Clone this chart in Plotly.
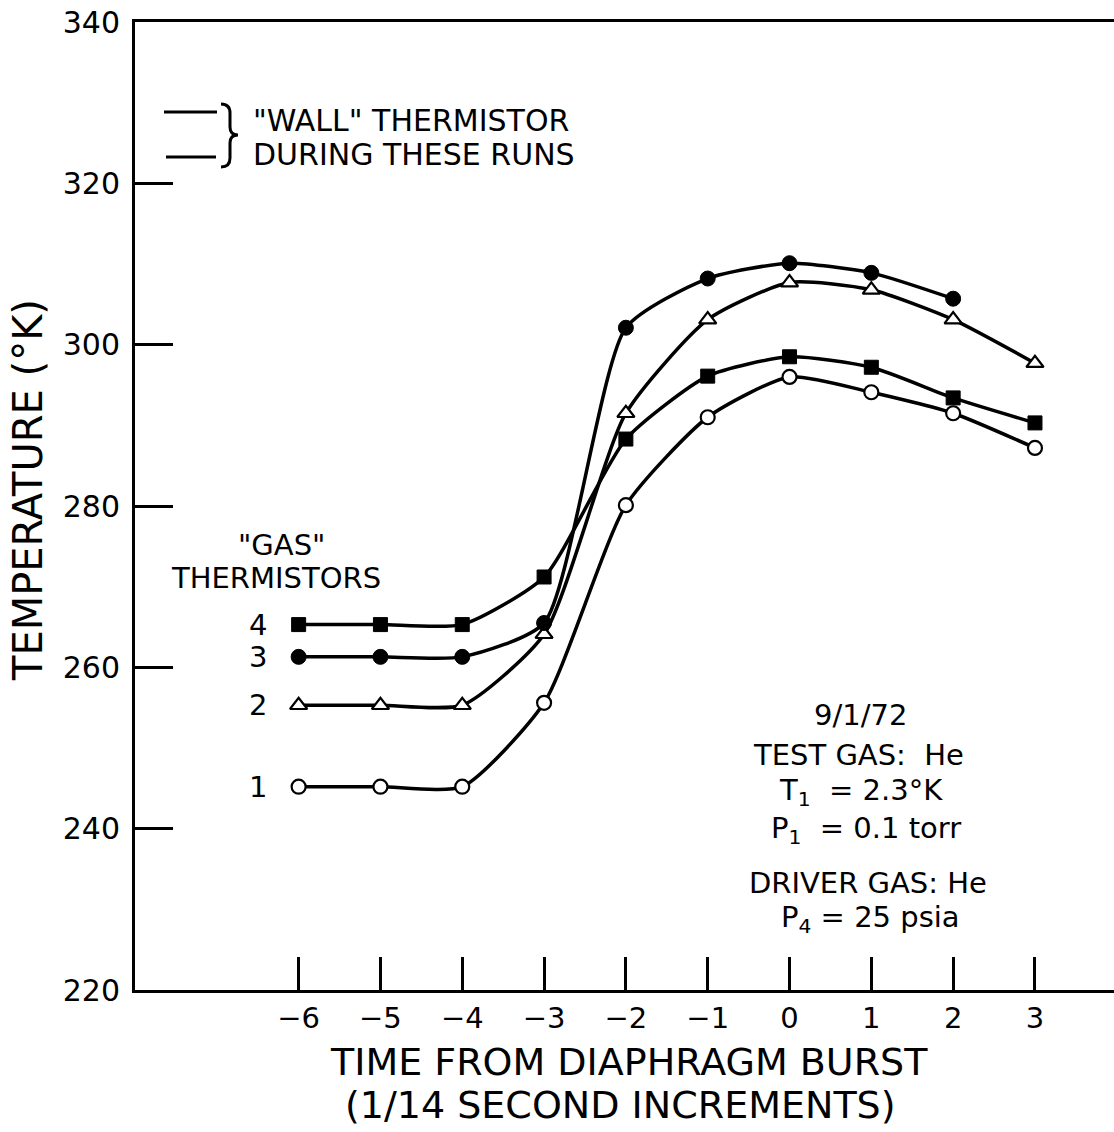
import plotly.graph_objects as go

# ---------------- data ----------------
time = [-6, -5, -4, -3, -2, -1, 0, 1, 2, 3]
gas1 = [245.2, 245.2, 245.2, 255.6, 280.1, 291.0, 296.0, 294.1, 291.5, 287.2]
gas2 = [255.3, 255.3, 255.3, 264.1, 291.5, 303.1, 307.7, 306.8, 303.1, 297.7]
gas3 = [261.3, 261.3, 261.3, 265.5, 302.1, 308.2, 310.1, 308.9, 305.7]
gas4 = [265.3, 265.3, 265.3, 271.2, 288.3, 296.1, 298.5, 297.2, 293.4, 290.3]
gas_labels = ["1", "2", "3", "4"]
y_ticks = [220, 240, 260, 280, 300, 320, 340]
x_ticks = [-6, -5, -4, -3, -2, -1, 0, 1, 2, 3]

W, H = 1114, 1132
L, R, T, B = 135, 0, 22, 142
FONT = "DejaVu Sans"


def px(xp):
    return (xp - L) / (W - L - R)


def py(yp):
    return (H - B - yp) / (H - T - B)


fig = go.Figure()

series = [
    (gas1, dict(symbol="circle", size=14, color="white", line=dict(color="black", width=2.2))),
    (gas2, dict(symbol="triangle-up", size=15, color="white", line=dict(color="black", width=2.2))),
    (gas3, dict(symbol="circle", size=15, color="black", line=dict(color="black", width=1))),
    (gas4, dict(symbol="square", size=14, color="black", line=dict(color="black", width=1))),
]
for vals, mk in series:
    fig.add_trace(go.Scatter(
        x=time[:len(vals)], y=vals, mode="lines+markers",
        line=dict(color="black", width=3.5, shape="spline", smoothing=0.6),
        marker=mk, showlegend=False, cliponaxis=False,
    ))

ann = []
# gas thermistor numbers next to the first point of each series
for lab, vals in zip(gas_labels, [gas1, gas2, gas3, gas4]):
    ann.append(dict(x=-6.5, y=vals[0], xref="x", yref="y", text=lab, showarrow=False,
                    font=dict(size=29, family=FONT, color="black"), xanchor="center", yanchor="middle"))

def txt(x, y, s, size=30, xanchor="center", angle=0):
    ann.append(dict(x=px(x), y=py(y), xref="paper", yref="paper", text=s, showarrow=False,
                    font=dict(size=size, family=FONT, color="black"),
                    xanchor=xanchor, yanchor="middle", textangle=angle))

txt(281, 545, '"GAS"', size=29)
txt(276, 578, "THERMISTORS", size=29)
txt(251, 120, '"WALL" THERMISTOR', xanchor="left")
txt(251, 155, "DURING THESE RUNS", xanchor="left")

txt(860, 715, "9/1/72", size=29)
txt(858, 755, "TEST GAS:  He", size=29)
txt(861, 792, "T<sub>1</sub>  = 2.3°K", size=29)
txt(866, 830, "P<sub>1</sub>  = 0.1 torr", size=29)
txt(868, 883, "DRIVER GAS: He", size=29)
txt(870, 919, "P<sub>4</sub> = 25 psia", size=29)

txt(629, 1062, "TIME FROM DIAPHRAGM BURST", size=38)
txt(620, 1105, "(1/14 SECOND INCREMENTS)", size=38)
txt(28, 490, "TEMPERATURE (°K)", size=40, angle=-90)

shapes = [
    dict(type="line", xref="paper", yref="paper", x0=px(164), x1=px(217), y0=py(112), y1=py(112),
         line=dict(color="black", width=3)),
    dict(type="line", xref="paper", yref="paper", x0=px(166), x1=px(216), y0=py(157), y1=py(157),
         line=dict(color="black", width=3)),
]
# curly brace
bp = [(221, 104), (230, 104), (230, 113), (230, 127), (230, 135), (238, 135), (230, 135), (230, 143),
      (230, 158), (230, 167), (221, 167)]
def P(p):
    return f"{px(p[0]):.5f},{py(p[1]):.5f}"
path = (f"M {P(bp[0])} Q {P(bp[1])} {P(bp[2])} L {P(bp[3])} Q {P(bp[4])} {P(bp[5])} "
        f"Q {P(bp[6])} {P(bp[7])} L {P(bp[8])} Q {P(bp[9])} {P(bp[10])}")
shapes.append(dict(type="path", xref="paper", yref="paper", path=path,
                   line=dict(color="black", width=3)))

fig.update_layout(
    width=W, height=H,
    margin=dict(l=L, r=R, t=T, b=B, pad=0),
    paper_bgcolor="white", plot_bgcolor="white",
    annotations=ann, shapes=shapes,
    xaxis=dict(range=[-8.0, 3.966], tickmode="array", tickvals=x_ticks,
               ticks="inside", ticklen=33, tickwidth=2.5, tickcolor="black",
               showline=True, linecolor="black", linewidth=3, mirror=True,
               showgrid=False, zeroline=False, automargin=False,
               tickfont=dict(size=29, family=FONT, color="black"), ticklabelstandoff=0),
    yaxis=dict(range=[220, 340], tickmode="array", tickvals=y_ticks,
               ticks="inside", ticklen=38, tickwidth=2.5, tickcolor="black",
               showline=True, linecolor="black", linewidth=3, mirror=False,
               showgrid=False, zeroline=False, automargin=False,
               tickfont=dict(size=30, family=FONT, color="black"), ticklabelstandoff=6),
)

fig.write_html("out.html")
